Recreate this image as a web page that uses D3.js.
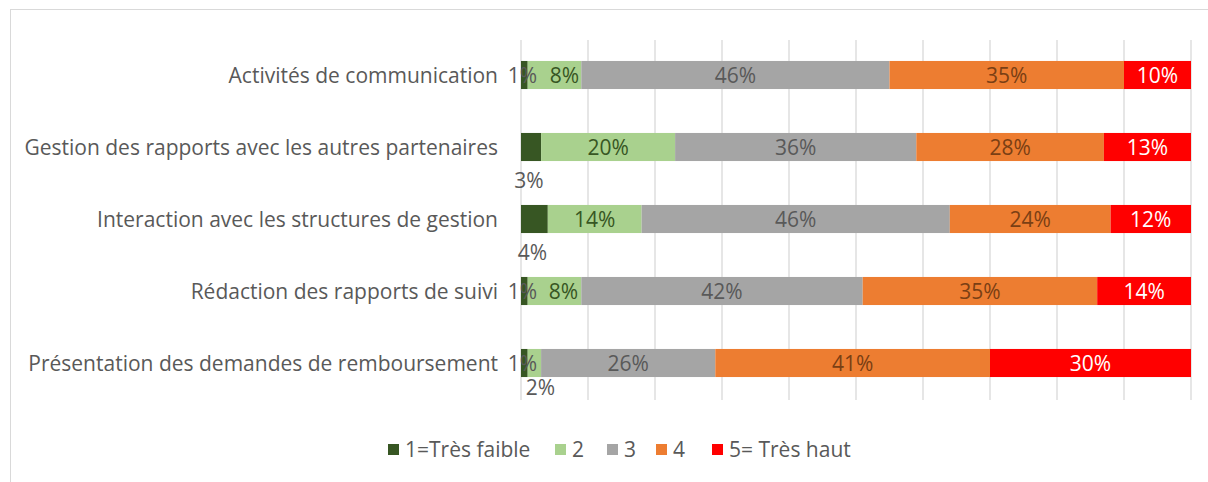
<!DOCTYPE html>
<html>
<head>
<meta charset="utf-8">
<script src="https://cdn.jsdelivr.net/npm/d3@7"></script>
<style>
  body { margin: 0; background: #fff; }
  text { font-family: "Open Sans", "Liberation Sans", sans-serif; }
</style>
</head>
<body>
<div class="chart"></div>
<script>
//Data
var categories = [
    "Activités de communication",
    "Gestion des rapports avec les autres partenaires",
    "Interaction avec les structures de gestion",
    "Rédaction des rapports de suivi",
    "Présentation des demandes de remboursement"
];
var seriesNames = ["1=Très faible", "2", "3", "4", "5= Très haut"];
var level1 = [1, 3, 4, 1, 1];
var level2 = [8, 20, 14, 8, 2];
var level3 = [46, 36, 46, 42, 26];
var level4 = [35, 28, 24, 35, 41];
var level5 = [10, 13, 12, 14, 30];
var series = [level1, level2, level3, level4, level5];
var xTicks = [0, 10, 20, 30, 40, 50, 60, 70, 80, 90, 100];

//Colours
var colors = ["#375623", "#a9d18e", "#a5a5a5", "#ed7d31", "#ff0000"];
var labelColors = ["#595959", "#375623", "#595959", "#7a3f14", "#ffffff"];

//Hand-placed labels "row-series" -> [dx, dy] from segment centre
var labelNudge = {
    "0-0": [-2, 0], "3-0": [-2, 0], "4-0": [-2, 0],
    "0-1": [10, 0], "3-1": [9, 0],
    "1-0": [-2, 33], "2-0": [-2, 33], "4-1": [6, 24]
};

var fontSize = 21;

//Width and height
var w = 1208;
var h = 482;

var svg = d3.select(".chart")
    .append("svg")
    .attr("width", w)
    .attr("height", h);

//Chart frame
svg.append("rect")
    .attr("x", 10.5)
    .attr("y", 9.5)
    .attr("width", 1200)
    .attr("height", 480)
    .attr("fill", "none")
    .attr("stroke", "#d9d9d9");

//Scales
var xScale = d3.scaleLinear()
    .domain([0, 100])
    .range([521, 1191]);

var yScale = d3.scaleBand()
    .domain(categories)
    .range([39, 399])
    .paddingInner(0.61)
    .paddingOuter(0.305);

//Gridlines
svg.append("g")
    .selectAll("line")
    .data(xTicks)
    .enter()
    .append("line")
    .attr("x1", d => xScale(d))
    .attr("x2", d => xScale(d))
    .attr("y1", 40)
    .attr("y2", 400)
    .attr("stroke", "#d9d9d9")
    .attr("stroke-width", 1.3);

//Stack data
var rows = categories.map((c, i) => {
    var row = { cat: c };
    series.forEach((s, j) => { row["s" + j] = s[i]; });
    return row;
});
var keys = series.map((s, j) => "s" + j);
var stacked = d3.stack().keys(keys)(rows);

//Bars
var layers = svg.selectAll(".layer")
    .data(stacked)
    .enter()
    .append("g")
    .attr("class", "layer")
    .attr("fill", (d, i) => colors[i]);

layers.selectAll("rect")
    .data(d => d)
    .enter()
    .append("rect")
    .attr("x", d => xScale(d[0]))
    .attr("y", d => yScale(d.data.cat))
    .attr("width", d => xScale(d[1]) - xScale(d[0]))
    .attr("height", yScale.bandwidth());

//Value labels
stacked.forEach((layer, j) => {
    layer.forEach((d, i) => {
        var nudge = labelNudge[i + "-" + j] || [0, 0];
        var cx = (xScale(d[0]) + xScale(d[1])) / 2;
        var cy = yScale(d.data.cat) + yScale.bandwidth() / 2;
        var below = nudge[1] !== 0;
        svg.append("text")
            .attr("x", cx + nudge[0])
            .attr("y", cy + nudge[1])
            .attr("dy", "0.36em")
            .attr("text-anchor", "middle")
            .attr("font-size", fontSize)
            .attr("fill", below ? "#595959" : labelColors[j])
            .text(d.data["s" + j] + "%");
    });
});

//Category labels
svg.append("g")
    .selectAll("text")
    .data(categories)
    .enter()
    .append("text")
    .attr("x", 498)
    .attr("y", d => yScale(d) + yScale.bandwidth() / 2)
    .attr("dy", "0.36em")
    .attr("text-anchor", "end")
    .attr("font-size", fontSize)
    .attr("fill", "#595959")
    .text(d => d);

//Legend
var legendX = [388, 555, 607, 656, 712];
var legend = svg.selectAll(".legend")
    .data(seriesNames)
    .enter()
    .append("g")
    .attr("class", "legend")
    .attr("transform", (d, i) => "translate(" + legendX[i] + ", 449)");

legend.append("rect")
    .attr("y", -5)
    .attr("width", 11)
    .attr("height", 11)
    .attr("fill", (d, i) => colors[i]);

legend.append("text")
    .attr("x", 17)
    .attr("dy", "0.36em")
    .attr("font-size", fontSize)
    .attr("fill", "#595959")
    .text(d => d);
</script>
</body>
</html>
